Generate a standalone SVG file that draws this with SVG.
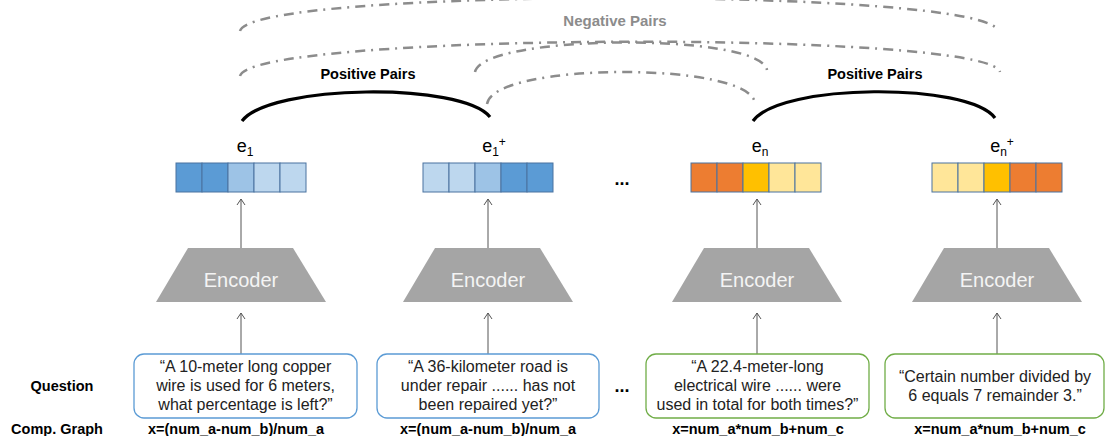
<svg xmlns="http://www.w3.org/2000/svg" width="1106" height="436" viewBox="0 0 1106 436">
<defs>
<style>
.neg{fill:none;stroke:#8c8c8c;stroke-width:2.5;stroke-dasharray:10 6 2 6}
.pos{fill:none;stroke:#000;stroke-width:3.2}
.lbl{font-family:"Liberation Sans",Arial,sans-serif;font-weight:bold;text-anchor:middle}
.enc{fill:#a5a5a5}
.enct{font-family:"Liberation Sans",Arial,sans-serif;font-size:20px;fill:#f4f4f4;text-anchor:middle}
.vec{font-family:"Liberation Sans",Arial,sans-serif;font-size:18px;fill:#000;text-anchor:middle}
.cell{stroke:#4a73a0;stroke-width:1}
.arr{stroke:#555;stroke-width:1;fill:none}
.qb{fill:#fff;stroke:#5b9bd5;stroke-width:1.3}
.qg{fill:#fff;stroke:#70ad47;stroke-width:1.3}
.qt{font-family:"Liberation Sans",Arial,sans-serif;font-size:16px;fill:#222;text-anchor:middle}
.d1{fill:#5b9bd5}.d2{fill:#9dc3e6}.d3{fill:#bdd7ee}
.o1{fill:#ed7d31}.o2{fill:#ffc000}.o3{fill:#ffe699}
</style>
<marker id="ah" viewBox="0 0 10 10" refX="9" refY="5" markerWidth="10" markerHeight="10" markerUnits="userSpaceOnUse" orient="auto">
<path d="M3,1 L9,5 L3,9" fill="none" stroke="#555" stroke-width="1"/>
</marker>
</defs>
<rect width="1106" height="436" fill="#fff"/>

<g id="connectors">
<path class="neg" d="M240,31 C250,-13 988,-13 998,31"/>
<path class="neg" d="M240,76 C250,32 990,30 1000,72"/>
<path class="neg" d="M475,72 C482,34 760,32 767,70"/>
<path class="neg" d="M487,104 C493,62 749,61 755,103"/>
<path class="pos" d="M242,121 C270,84 462,82 490,117"/>
<path class="pos" d="M753,121 C780,83 968,82 995,118"/>
<line class="arr" x1="241" y1="248" x2="241" y2="199" marker-end="url(#ah)"/>
<line class="arr" x1="488" y1="248" x2="488" y2="199" marker-end="url(#ah)"/>
<line class="arr" x1="757" y1="248" x2="757" y2="199" marker-end="url(#ah)"/>
<line class="arr" x1="997" y1="248" x2="997" y2="199" marker-end="url(#ah)"/>
<line class="arr" x1="241" y1="354" x2="241" y2="313" marker-end="url(#ah)"/>
<line class="arr" x1="488" y1="354" x2="488" y2="313" marker-end="url(#ah)"/>
<line class="arr" x1="757" y1="354" x2="757" y2="313" marker-end="url(#ah)"/>
<line class="arr" x1="997" y1="354" x2="997" y2="313" marker-end="url(#ah)"/>
</g>

<g id="labels">
<text class="lbl" x="615" y="26" font-size="15" fill="#8c8c8c">Negative Pairs</text>
<text class="lbl" x="368" y="79" font-size="14.5" fill="#000">Positive Pairs</text>
<text class="lbl" x="875" y="79" font-size="14.5" fill="#000">Positive Pairs</text>
<text class="lbl" x="62" y="391" font-size="14.5" fill="#000">Question</text>
<text class="lbl" x="57" y="434" font-size="14.5" fill="#000">Comp. Graph</text>
<text class="lbl" x="622" y="185" font-size="18" fill="#000">...</text>
<text class="lbl" x="622" y="392" font-size="18" fill="#000">...</text>
</g>

<g id="e1">
<text class="vec" x="245" y="152">e<tspan font-size="12" dy="4">1</tspan></text>
<rect class="cell d1" x="176" y="163" width="26" height="29"/>
<rect class="cell d1" x="202" y="163" width="26" height="29"/>
<rect class="cell d2" x="228" y="163" width="26" height="29"/>
<rect class="cell d3" x="254" y="163" width="26" height="29"/>
<rect class="cell d3" x="280" y="163" width="26" height="29"/>
</g>
<g id="e1plus">
<text class="vec" x="494" y="152">e<tspan font-size="12" dy="4">1</tspan><tspan font-size="12" dy="-10">+</tspan></text>
<rect class="cell d3" x="423" y="163" width="26" height="29"/>
<rect class="cell d3" x="449" y="163" width="26" height="29"/>
<rect class="cell d2" x="475" y="163" width="26" height="29"/>
<rect class="cell d1" x="501" y="163" width="26" height="29"/>
<rect class="cell d1" x="527" y="163" width="26" height="29"/>
</g>
<g id="en">
<text class="vec" x="760" y="152">e<tspan font-size="12" dy="4">n</tspan></text>
<rect class="cell o1" x="691" y="163" width="26" height="29"/>
<rect class="cell o1" x="717" y="163" width="26" height="29"/>
<rect class="cell o2" x="743" y="163" width="26" height="29"/>
<rect class="cell o3" x="769" y="163" width="26" height="29"/>
<rect class="cell o3" x="795" y="163" width="26" height="29"/>
</g>
<g id="enplus">
<text class="vec" x="1002" y="152">e<tspan font-size="12" dy="4">n</tspan><tspan font-size="12" dy="-10">+</tspan></text>
<rect class="cell o3" x="932" y="163" width="26" height="29"/>
<rect class="cell o3" x="958" y="163" width="26" height="29"/>
<rect class="cell o2" x="984" y="163" width="26" height="29"/>
<rect class="cell o1" x="1010" y="163" width="26" height="29"/>
<rect class="cell o1" x="1036" y="163" width="26" height="29"/>
</g>

<g id="encoder1">
<polygon class="enc" points="188,248 293,248 326,302 156,302"/>
<text class="enct" x="241" y="287">Encoder</text>
</g>
<g id="encoder2">
<polygon class="enc" points="435,248 540,248 573,302 403,302"/>
<text class="enct" x="488" y="287">Encoder</text>
</g>
<g id="encoder3">
<polygon class="enc" points="704,248 809,248 842,302 672,302"/>
<text class="enct" x="757" y="287">Encoder</text>
</g>
<g id="encoder4">
<polygon class="enc" points="944,248 1049,248 1082,302 912,302"/>
<text class="enct" x="997" y="287">Encoder</text>
</g>

<g id="q1">
<rect class="qb" x="134" y="354" width="223" height="64" rx="10"/>
<text class="qt" x="245.5" y="372">“A 10-meter long copper</text>
<text class="qt" x="245.5" y="391">wire is used for 6 meters,</text>
<text class="qt" x="245.5" y="410">what percentage is left?”</text>
</g>
<g id="q2">
<rect class="qb" x="377" y="354" width="222" height="64" rx="10"/>
<text class="qt" x="488" y="372">“A 36-kilometer road is</text>
<text class="qt" x="488" y="391">under repair ...... has not</text>
<text class="qt" x="488" y="410">been repaired yet?”</text>
</g>
<g id="q3">
<rect class="qg" x="646" y="354" width="223" height="64" rx="10"/>
<text class="qt" x="757.5" y="372">“A 22.4-meter-long</text>
<text class="qt" x="757.5" y="391">electrical wire ...... were</text>
<text class="qt" x="757.5" y="410">used in total for both times?”</text>
</g>
<g id="q4">
<rect class="qg" x="885" y="354" width="219" height="64" rx="10"/>
<text class="qt" x="995" y="382">“Certain number divided by</text>
<text class="qt" x="995" y="401">6 equals 7 remainder 3.”</text>
</g>

<g id="graphs">
<text class="lbl" x="236" y="434" font-size="14.5" fill="#000">x=(num_a-num_b)/num_a</text>
<text class="lbl" x="488" y="434" font-size="14.5" fill="#000">x=(num_a-num_b)/num_a</text>
<text class="lbl" x="758" y="434" font-size="14.5" fill="#000">x=num_a*num_b+num_c</text>
<text class="lbl" x="1000" y="434" font-size="14.5" fill="#000">x=num_a*num_b+num_c</text>
</g>
</svg>
